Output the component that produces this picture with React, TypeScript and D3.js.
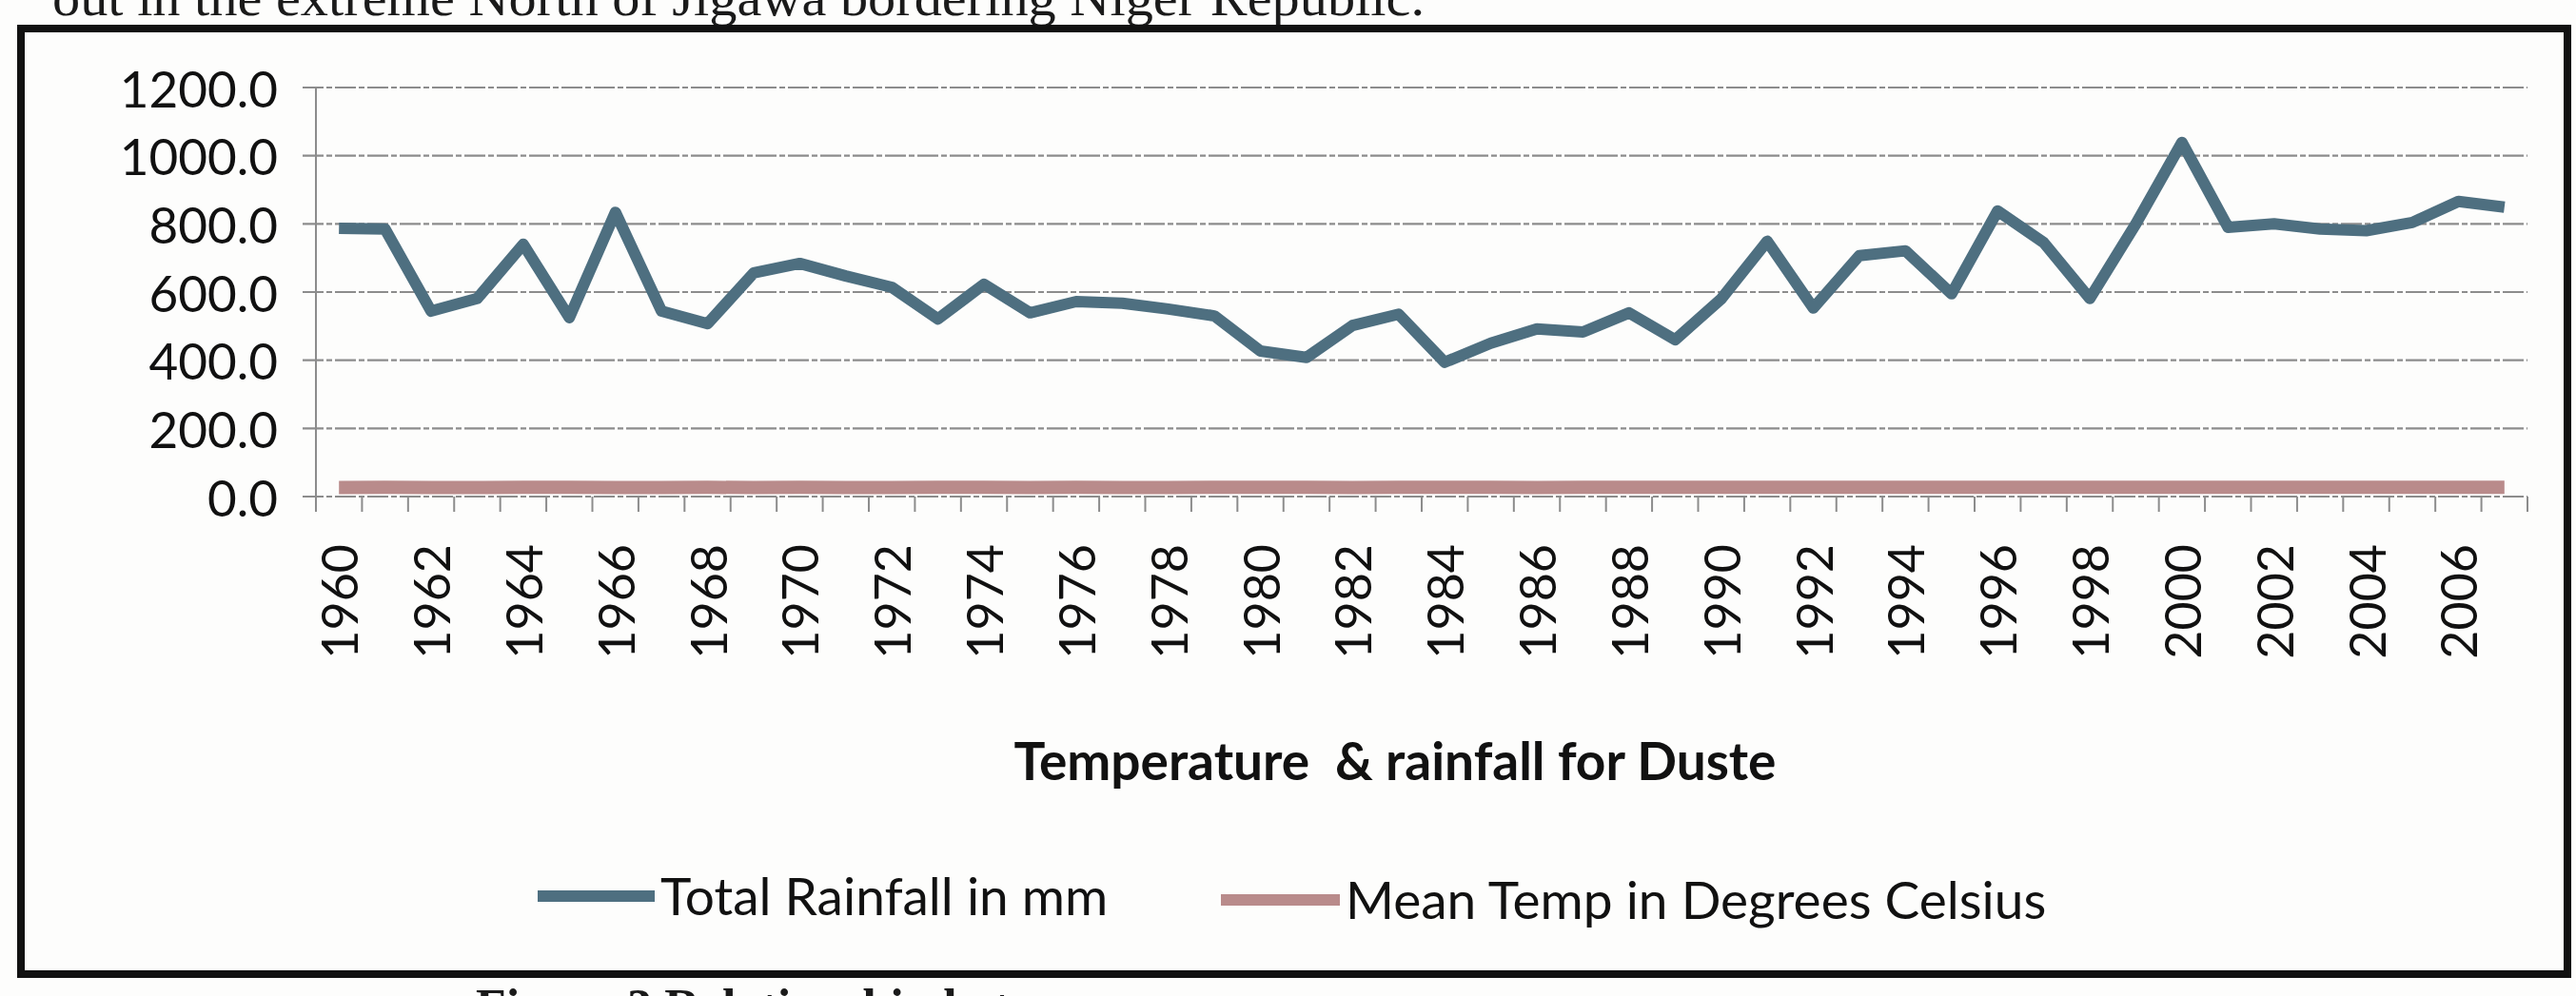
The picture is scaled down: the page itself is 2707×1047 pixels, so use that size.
import React from "react";
import * as d3 from "d3";

const years: number[] = [
  1960, 1961, 1962, 1963, 1964, 1965, 1966, 1967, 1968, 1969,
  1970, 1971, 1972, 1973, 1974, 1975, 1976, 1977, 1978, 1979,
  1980, 1981, 1982, 1983, 1984, 1985, 1986, 1987, 1988, 1989,
  1990, 1991, 1992, 1993, 1994, 1995, 1996, 1997, 1998, 1999,
  2000, 2001, 2002, 2003, 2004, 2005, 2006, 2007,
];

const totalRainfall: number[] = [
  787, 785, 544, 581, 740, 525, 834, 544, 507, 656,
  684, 647, 614, 521, 623, 539, 572, 567, 550, 530,
  427, 408, 502, 535, 394, 450, 492, 483, 539, 460,
  580, 749, 553, 707, 721, 595, 838, 745, 581, 800,
  1039, 790, 800, 785, 780, 804, 866, 849,
];

const meanTemp: number[] = [
  26.8, 26.9, 26.7, 26.8, 26.9, 27.0, 26.8, 26.7, 26.9, 26.8,
  26.9, 26.8, 26.7, 26.9, 27.0, 26.8, 26.9, 26.8, 26.7, 26.9,
  27.0, 26.9, 26.8, 27.0, 27.1, 26.9, 26.8, 26.9, 27.0, 26.9,
  27.0, 26.9, 27.1, 27.0, 26.9, 27.1, 27.0, 26.9, 27.1, 27.2,
  27.0, 27.1, 27.2, 27.1, 27.0, 27.2, 27.1, 27.2,
];

const yTicks: number[] = [0, 200, 400, 600, 800, 1000, 1200];
const xTickLabels: number[] = years.filter((y) => y % 2 === 0);

const chartTitle = "Temperature  & rainfall for Duste";
const seriesNames: string[] = ["Total Rainfall in mm", "Mean Temp in Degrees Celsius"];
const pageTextTop = "out in the extreme North of Jigawa bordering Niger Republic.";
const pageTextBottom = "Figure 3 Relationship between";

export default function App() {
  const W = 2707;
  const H = 1047;
  const plotLeft = 332;
  const plotRight = 2656;
  const plotTop = 92;
  const plotBottom = 522;

  const x = d3
    .scaleBand<number>()
    .domain(years)
    .range([plotLeft, plotRight])
    .paddingInner(0)
    .paddingOuter(0);
  const cx = (yr: number) => (x(yr) as number) + x.bandwidth() / 2;
  const y = d3.scaleLinear().domain([0, 1200]).range([plotBottom, plotTop]);

  const line = d3
    .line<number>()
    .x((_, i) => cx(years[i]))
    .y((d) => y(d));

  const blue = "#4e6f80";
  const red = "#b98b8b";
  const grid = "#8c8c8c";
  const font = "Lato, 'Open Sans', sans-serif";

  const boundaries = [...years.map((yr) => x(yr) as number), plotRight];

  return (
    <svg
      width={W}
      height={H}
      viewBox={`0 0 ${W} ${H}`}
      style={{ position: "absolute", left: 0, top: 0, background: "#fdfdfc" }}
    >
      <rect x={0} y={0} width={W} height={H} fill="#fdfdfc" />
      {/* page text above, cut off */}
      <text
        x={55}
        y={16}
        fontFamily="'Liberation Serif', 'Times New Roman', serif"
        fontSize={54}
        fill="#1a1a1a"
        textLength={1442}
        lengthAdjust="spacingAndGlyphs"
      >
        {pageTextTop}
      </text>
      {/* page caption below, cut off */}
      <text
        x={500}
        y={1076}
        fontFamily="'Liberation Serif', 'Times New Roman', serif"
        fontSize={52}
        fontWeight="bold"
        fill="#1a1a1a"
      >
        {pageTextBottom}
      </text>

      {/* outer border */}
      <rect
        x={22}
        y={30}
        width={2676}
        height={994}
        fill="none"
        stroke="#111"
        strokeWidth={8}
      />

      {/* gridlines */}
      {yTicks.map((t) => (
        <line
          key={`g${t}`}
          x1={plotLeft - 14}
          x2={plotRight}
          y1={y(t)}
          y2={y(t)}
          stroke={grid}
          strokeWidth={2.2}
          strokeDasharray="22 3 6 3"
        />
      ))}
      {/* y axis line */}
      <line x1={plotLeft} x2={plotLeft} y1={plotTop} y2={plotBottom + 16} stroke={grid} strokeWidth={2} />
      {/* x ticks */}
      {boundaries.map((bx, i) => (
        <line key={`t${i}`} x1={bx} x2={bx} y1={plotBottom} y2={plotBottom + 16} stroke={grid} strokeWidth={2} />
      ))}

      {/* y tick labels */}
      {yTicks.map((t) => (
        <text
          key={`yl${t}`}
          x={292}
          y={y(t)}
          textAnchor="end"
          dominantBaseline="central"
          fontFamily={font}
          fontSize={53}
          fill="#111"
        >
          {t.toFixed(1)}
        </text>
      ))}

      {/* x tick labels */}
      {xTickLabels.map((yr) => (
        <text
          key={`xl${yr}`}
          transform={`translate(${cx(yr)},${572}) rotate(-90)`}
          textAnchor="end"
          dominantBaseline="central"
          fontFamily={font}
          fontSize={52}
          fill="#111"
        >
          {yr}
        </text>
      ))}

      {/* series */}
      <path
        d={line(meanTemp) || ""}
        fill="none"
        stroke={red}
        strokeWidth={14}
        strokeLinejoin="round"
      />
      <path
        d={line(totalRainfall) || ""}
        fill="none"
        stroke={blue}
        strokeWidth={12}
        strokeLinejoin="round"
      />

      {/* axis title */}
      <text
        x={1466}
        y={820}
        textAnchor="middle"
        fontFamily={font}
        fontWeight="bold"
        fontSize={55}
        fill="#111"
        style={{ whiteSpace: "pre" }}
      >
        {chartTitle}
      </text>

      {/* legend */}
      <line x1={565} x2={688} y1={942} y2={942} stroke={blue} strokeWidth={12} />
      <text x={694} y={962} fontFamily={font} fontSize={55} fill="#111">
        {seriesNames[0]}
      </text>
      <line x1={1283} x2={1408} y1={946} y2={946} stroke={red} strokeWidth={12} />
      <text x={1414} y={966} fontFamily={font} fontSize={55} fill="#111">
        {seriesNames[1]}
      </text>
    </svg>
  );
}
